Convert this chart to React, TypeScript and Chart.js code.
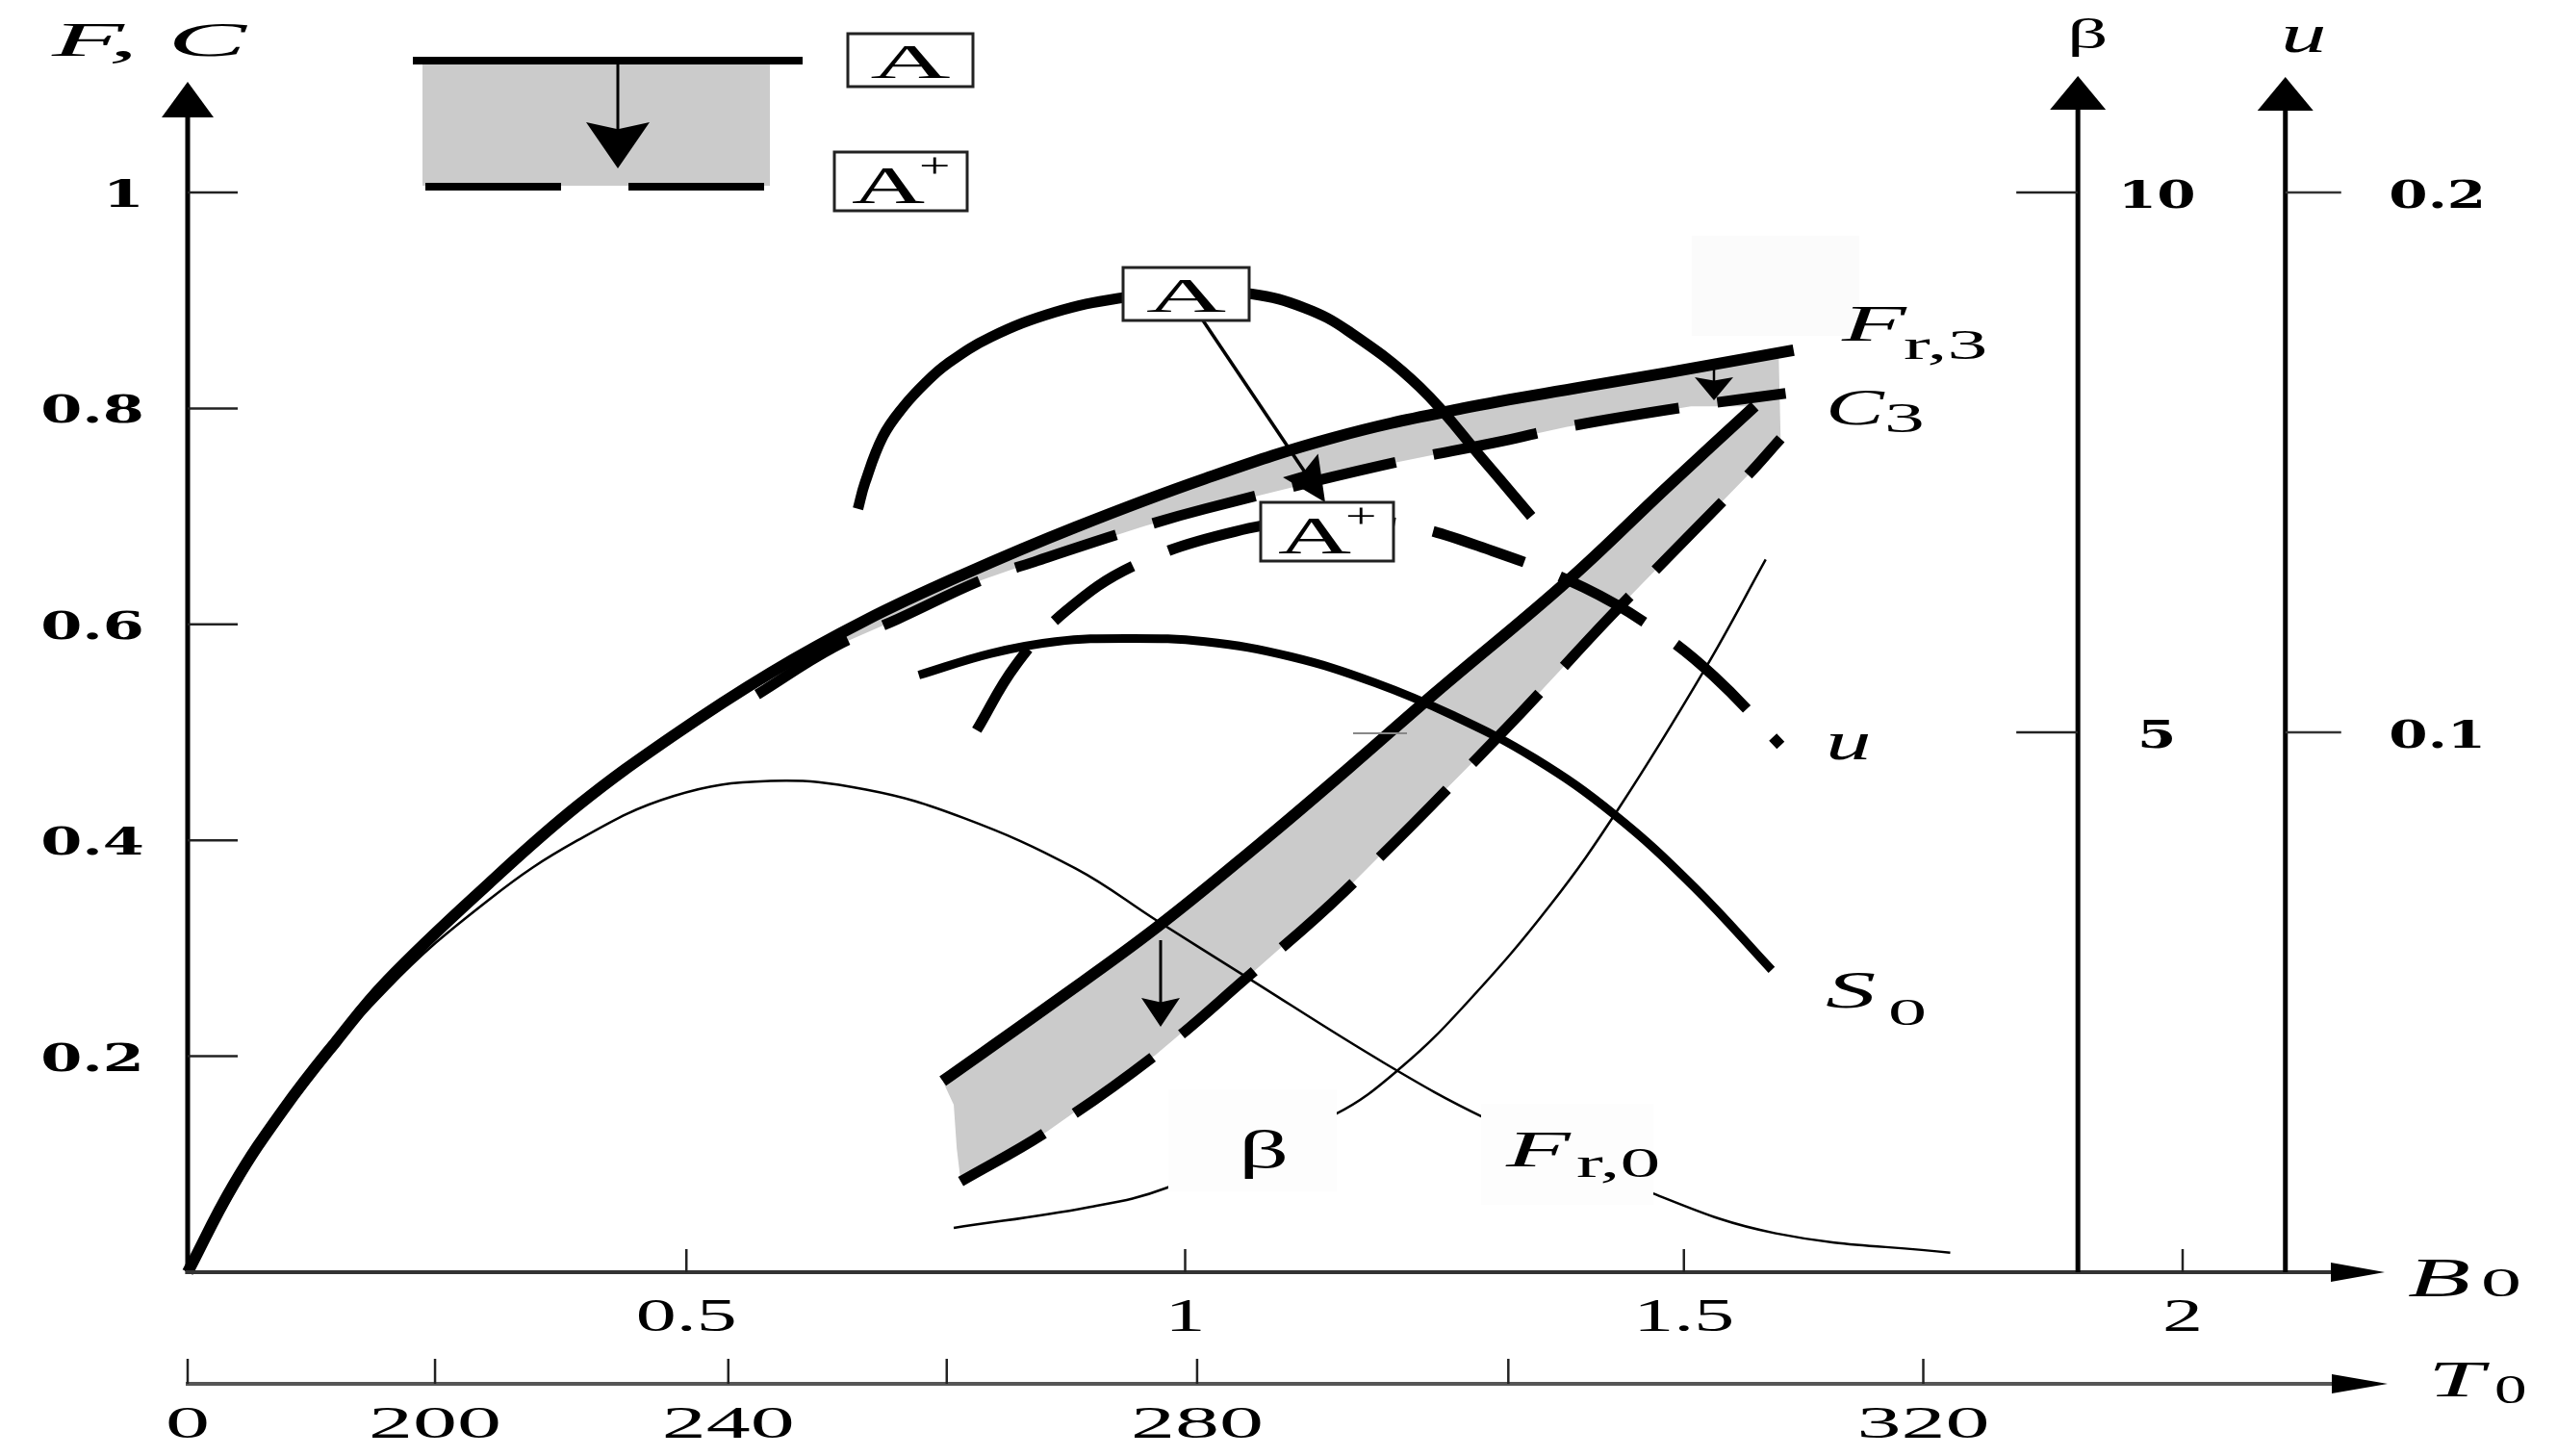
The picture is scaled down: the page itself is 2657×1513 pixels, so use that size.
import React, { useEffect, useRef } from 'react';
import { Chart, registerables } from 'chart.js';
Chart.register(...registerables);

// ---------- data (B0 on x, F/C on y; beta and u on their own axes) ----------
const fr3B0 = [0, 0.046, 0.097, 0.149, 0.2, 0.302, 0.391, 0.487, 0.584, 0.68, 0.777, 0.89, 1.02, 1.149, 1.278, 1.4, 1.483, 1.61];
const fr3F = [0, 0.081, 0.152, 0.214, 0.27, 0.36, 0.432, 0.497, 0.555, 0.604, 0.646, 0.69, 0.735, 0.773, 0.8, 0.82, 0.833, 0.854];

const c3B0 = [0.571, 0.648, 0.712, 0.796, 0.852, 0.959, 1.02, 1.196, 1.319, 1.383, 1.507, 1.602];
const c3F = [0.535, 0.579, 0.605, 0.641, 0.659, 0.691, 0.707, 0.747, 0.77, 0.783, 0.802, 0.814];

const fr0B0 = [0, 0.1, 0.2, 0.302, 0.391, 0.487, 0.584, 0.68, 0.777, 0.89, 0.971, 1.057, 1.201, 1.3, 1.469, 1.592, 1.767];
const fr0F = [0, 0.152, 0.262, 0.345, 0.4, 0.441, 0.455, 0.447, 0.421, 0.374, 0.326, 0.276, 0.193, 0.143, 0.073, 0.036, 0.018];

const s0B0 = [0.733, 0.805, 0.87, 0.94, 1.02, 1.106, 1.19, 1.27, 1.35, 1.43, 1.51, 1.588];
const s0F = [0.553, 0.573, 0.584, 0.587, 0.584, 0.57, 0.546, 0.515, 0.476, 0.424, 0.357, 0.28];

// u in state A (solid) and A+ (dashed), in u units
const uAB0 = [0.672, 0.679, 0.697, 0.718, 0.74, 0.761, 0.805, 0.869, 0.933, 1.0, 1.067, 1.12, 1.163, 1.235, 1.302, 1.347];
const uAVal = [0.1414, 0.1462, 0.1548, 0.1604, 0.1648, 0.1682, 0.1732, 0.1778, 0.1804, 0.1816, 0.1812, 0.1786, 0.1744, 0.164, 0.1498, 0.14];
const uAPlusB0 = [0.791, 0.83, 0.88, 0.95, 1.05, 1.14, 1.216, 1.308, 1.4, 1.47, 1.53, 1.597];
const uAPlusVal = [0.1004, 0.1124, 0.1224, 0.131, 0.1372, 0.1394, 0.1386, 0.1336, 0.1268, 0.1192, 0.1104, 0.0976];

// diagonal band: upper solid (A) and lower dashed (A+)
const upperB0 = [0.757, 0.867, 0.971, 1.075, 1.163, 1.25, 1.383, 1.483, 1.571];
const upperF = [0.177, 0.249, 0.319, 0.397, 0.466, 0.536, 0.64, 0.727, 0.802];
const lowerB0 = [0.775, 0.861, 0.97, 1.062, 1.159, 1.319, 1.427, 1.563, 1.597];
const lowerF = [0.084, 0.13, 0.201, 0.273, 0.352, 0.501, 0.608, 0.737, 0.772];
const bandLeftB0 = [0.771, 0.768];
const bandLeftF = [0.115, 0.155];
const bandCornerB0 = [1.595];
const bandCornerF = [0.851];

// beta curve, in beta units
const betaB0 = [0.768, 0.902, 0.981, 1.15, 1.217, 1.283, 1.366, 1.435, 1.522, 1.582];
const betaVal = [0.41, 0.6, 0.78, 1.46, 1.9, 2.5, 3.4, 4.3, 5.6, 6.6];

// ticks
const fTicks = [0.2, 0.4, 0.6, 0.8, 1];
const fTickLabels = ['0.2', '0.4', '0.6', '0.8', '1'];
const b0Ticks = [0.5, 1, 1.5, 2];
const b0TickLabels = ['0.5', '1', '1.5', '2'];
const t0TickB0 = [0, 0.248, 0.542, 0.761, 1.012, 1.324, 1.74];
const t0TickLabels = ['0', '200', '240', '', '280', '', '320'];
const betaTicks = [5, 10];
const betaTickLabels = ['5', '10'];
const uTicks = [0.1, 0.2];
const uTickLabels = ['0.1', '0.2'];
const BETA_AXIS_B0 = 1.895;
const U_AXIS_B0 = 2.103;

// ---------- layout ----------
const W = 2657, H = 1513;
const X0 = 195, XU = 1036.5, Y0 = 1322, YU = 1122;
const X_MAX = 2.3, F_MAX = 1.15;

const SERIF = '"Liberation Serif", "Times New Roman", serif';
const TICKFONT = '"DejaVu Serif", serif';

function drawText(ctx: any, s: string, x: number, y: number, font: string, sx: number, align = 'left', color = '#000') {
  ctx.save();
  ctx.font = font;
  ctx.fillStyle = color;
  ctx.textBaseline = 'alphabetic';
  ctx.textAlign = 'left';
  const w = ctx.measureText(s).width * sx;
  let left = x;
  if (align === 'center') left = x - w / 2;
  else if (align === 'right') left = x - w;
  ctx.translate(left, y);
  ctx.scale(sx, 1);
  ctx.fillText(s, 0, 0);
  ctx.restore();
}

function line(ctx: any, x1: number, y1: number, x2: number, y2: number, lw: number, color = '#000') {
  ctx.save();
  ctx.strokeStyle = color;
  ctx.lineWidth = lw;
  ctx.lineCap = 'butt';
  ctx.beginPath();
  ctx.moveTo(x1, y1);
  ctx.lineTo(x2, y2);
  ctx.stroke();
  ctx.restore();
}

function head(ctx: any, x1: number, y1: number, x2: number, y2: number, hl: number, hw: number, notch = 0.15) {
  const a = Math.atan2(y2 - y1, x2 - x1);
  const c = Math.cos(a), s = Math.sin(a);
  const bx = x2 - hl * c, by = y2 - hl * s;
  ctx.save();
  ctx.fillStyle = '#000';
  ctx.beginPath();
  ctx.moveTo(x2, y2);
  ctx.lineTo(bx + (hw / 2) * s, by - (hw / 2) * c);
  ctx.lineTo(x2 - hl * (1 - notch) * c, y2 - hl * (1 - notch) * s);
  ctx.lineTo(bx - (hw / 2) * s, by + (hw / 2) * c);
  ctx.closePath();
  ctx.fill();
  ctx.restore();
}

function arrow(ctx: any, x1: number, y1: number, x2: number, y2: number, lw: number, hl: number, hw: number) {
  const a = Math.atan2(y2 - y1, x2 - x1);
  line(ctx, x1, y1, x2 - hl * 0.7 * Math.cos(a), y2 - hl * 0.7 * Math.sin(a), lw);
  head(ctx, x1, y1, x2, y2, hl, hw);
}

const labelPieces = [
  { t: 'F, C', x: 54, y: 58, size: 50, sx: 2.45, it: true },
  { t: 'β', x: 2148, y: 50, size: 44, sx: 1.9, it: false },
  { t: 'u', x: 2370, y: 54, size: 56, sx: 1.7, it: true },
  { t: 'F', x: 1914, y: 354, size: 52, sx: 2.1, it: true },
  { t: 'r,3', x: 1978, y: 373, size: 44, sx: 1.9, it: false },
  { t: 'C', x: 1897, y: 441, size: 52, sx: 1.75, it: true },
  { t: '3', x: 1958, y: 449, size: 44, sx: 1.9, it: false },
  { t: 'u', x: 1897, y: 789, size: 56, sx: 1.7, it: true },
  { t: 'S', x: 1897, y: 1047, size: 55, sx: 1.9, it: true },
  { t: '0', x: 1962, y: 1065, size: 40, sx: 2.0, it: false },
  { t: 'β', x: 1287, y: 1213, size: 54, sx: 1.9, it: false },
  { t: 'F', x: 1565, y: 1212, size: 52, sx: 2.1, it: true },
  { t: 'r,0', x: 1638, y: 1223, size: 44, sx: 1.9, it: false },
  { t: 'B', x: 2502, y: 1347, size: 56, sx: 1.9, it: true },
  { t: '0', x: 2578, y: 1347, size: 42, sx: 2.0, it: false },
  { t: 'T', x: 2523, y: 1451, size: 52, sx: 2.0, it: true },
  { t: '0', x: 2592, y: 1458, size: 42, sx: 1.6, it: false },
];

const stateBoxes = [
  { x: 881, y: 35, w: 130, h: 55, plus: false },
  { x: 867, y: 158, w: 138, h: 61, plus: true },
  { x: 1167, y: 278, w: 131, h: 55, plus: false },
  { x: 1310, y: 522, w: 138, h: 61, plus: true },
];

const decor = {
  id: 'decor',
  afterDatasetsDraw(chart: any) {
    const ctx = chart.ctx;
    const xs = chart.scales.x, ys = chart.scales.y, yb = chart.scales.yBeta, yu = chart.scales.yU;
    const ox = xs.getPixelForValue(0), oy = ys.getPixelForValue(0);

    // label backgrounds (near-white patches)
    ctx.save();
    ctx.fillStyle = '#fdfdfd';
    ctx.fillRect(1214, 1132, 175, 106);
    ctx.fillRect(1539, 1147, 179, 105);
    ctx.fillStyle = '#fbfbfb';
    ctx.fillRect(1758, 245, 174, 104);
    ctx.restore();

    // main F,C axis
    line(ctx, ox, oy + 2, ox, 115, 5);
    head(ctx, ox, 300, ox, 85, 37, 54, 0);
    fTicks.forEach((v, i) => {
      const ty = ys.getPixelForValue(v);
      line(ctx, ox, ty, ox + 52, ty, 2.5, '#222');
      drawText(ctx, fTickLabels[i], 150, ty + 15, `bold 40px ${TICKFONT}`, 1.55, 'right');
    });

    // B0 axis
    line(ctx, ox - 2, oy, 2432, oy, 4, '#333');
    head(ctx, 2000, oy, 2478, oy, 56, 20, 0);
    b0Ticks.forEach((v, i) => {
      const tx = xs.getPixelForValue(v);
      line(ctx, tx, oy, tx, oy - 24, 2.5, '#222');
      drawText(ctx, b0TickLabels[i], tx, 1383, `48px ${SERIF}`, 1.75, 'center');
    });

    // T0 axis
    const ty0 = oy + 116;
    line(ctx, ox - 2, ty0, 2432, ty0, 4, '#555');
    head(ctx, 2000, ty0, 2481, ty0, 58, 20, 0);
    t0TickB0.forEach((v, i) => {
      const tx = xs.getPixelForValue(v);
      line(ctx, tx, ty0, tx, ty0 - 26, 2.5, '#222');
      if (t0TickLabels[i]) drawText(ctx, t0TickLabels[i], tx, 1494, `46px ${SERIF}`, 2.0, 'center');
    });

    // beta axis
    const bx = xs.getPixelForValue(BETA_AXIS_B0);
    line(ctx, bx, oy, bx, 110, 5);
    head(ctx, bx, 300, bx, 79, 35, 58, 0);
    betaTicks.forEach((v, i) => {
      const ty = yb.getPixelForValue(v);
      line(ctx, bx - 64, ty, bx, ty, 2.5, '#222');
      drawText(ctx, betaTickLabels[i], bx + 82, ty + 16, `bold 40px ${TICKFONT}`, 1.45, 'center');
    });

    // u axis
    const ux = xs.getPixelForValue(U_AXIS_B0);
    line(ctx, ux, oy, ux, 110, 5);
    head(ctx, ux, 300, ux, 80, 35, 58, 0);
    uTicks.forEach((v, i) => {
      const ty = yu.getPixelForValue(v);
      line(ctx, ux, ty, ux + 58, ty, 2.5, '#333');
      drawText(ctx, uTickLabels[i], ux + 158, ty + 16, `bold 40px ${TICKFONT}`, 1.45, 'center');
    });

    // stray tick
    line(ctx, 1406, 762, 1462, 762, 2, '#888');

    // legend
    ctx.save();
    ctx.fillStyle = '#cbcbcb';
    ctx.fillRect(439, 67, 361, 126);
    ctx.restore();
    line(ctx, 429, 63, 834, 63, 8);
    line(ctx, 442, 194, 583, 194, 8);
    line(ctx, 653, 194, 794, 194, 8);
    arrow(ctx, 642, 67, 642, 175, 3, 48, 66);

    // arrows
    arrow(ctx, 1250, 333, 1377, 522, 3.5, 46, 44);
    arrow(ctx, 1206, 977, 1206, 1067, 3, 30, 40);
    arrow(ctx, 1781, 381, 1781, 416, 2.5, 24, 40);

    // state boxes
    stateBoxes.forEach((b) => {
      ctx.save();
      ctx.fillStyle = '#fff';
      ctx.fillRect(b.x, b.y, b.w, b.h);
      ctx.strokeStyle = '#222';
      ctx.lineWidth = 3;
      ctx.strokeRect(b.x, b.y, b.w, b.h);
      ctx.restore();
      if (!b.plus) {
        drawText(ctx, 'A', b.x + b.w / 2, b.y + b.h - 9, `50px ${SERIF}`, 2.3, 'center');
      } else {
        drawText(ctx, 'A', b.x + 18, b.y + b.h - 8, `54px ${SERIF}`, 1.95);
        drawText(ctx, '+', b.x + 88, b.y + 26, `36px ${SERIF}`, 1.6);
      }
    });

    // curve and axis labels
    labelPieces.forEach((p) => {
      drawText(ctx, p.t, p.x, p.y, `${p.it ? 'italic ' : ''}${p.size}px ${SERIF}`, p.sx);
    });
  },
};

const pts = (xs: number[], ys: number[]) => xs.map((x, i) => ({ x, y: ys[i] }));

export default function App() {
  const ref = useRef<HTMLCanvasElement>(null);
  useEffect(() => {
    const canvas = ref.current!;
    const upperEnd = upperB0[upperB0.length - 1];
    const bandPoly = [
      { x: c3B0[0], y: c3F[0] },
      ...pts(fr3B0, fr3F).filter((p) => p.x > c3B0[0] && p.x < bandCornerB0[0]),
      ...pts(bandCornerB0, bandCornerF),
      ...pts(lowerB0, lowerF).reverse(),
      ...pts(bandLeftB0, bandLeftF),
      ...pts(upperB0, upperF),
      ...pts(c3B0, c3F).filter((p) => p.x < upperEnd).reverse(),
    ];
    const base = {
      borderColor: '#000',
      pointRadius: 0,
      fill: false,
      tension: 0.4,
      borderCapStyle: 'butt',
      clip: false,
    };
    const chart = new Chart(canvas, {
      type: 'line',
      data: {
        datasets: [
          { ...base, label: 'Fr,3', data: pts(fr3B0, fr3F), borderWidth: 12 },
          { ...base, label: 'C3', data: pts(c3B0, c3F), borderWidth: 11, borderDash: [110, 40] },
          { ...base, label: 'Fr,0', data: pts(fr0B0, fr0F), borderWidth: 2.5 },
          { ...base, label: 'S0', data: pts(s0B0, s0F), borderWidth: 9 },
          { ...base, label: 'u (A)', data: pts(uAB0, uAVal), yAxisID: 'yU', borderWidth: 11 },
          { ...base, label: 'u (A+)', data: pts(uAPlusB0, uAPlusVal), yAxisID: 'yU', borderWidth: 11, borderDash: [100, 40] },
          { ...base, label: 'band A', data: pts(upperB0, upperF), borderWidth: 12 },
          { ...base, label: 'band A+', data: pts(lowerB0, lowerF), borderWidth: 11, borderDash: [100, 38] },
          { ...base, label: 'beta', data: pts(betaB0, betaVal), yAxisID: 'yBeta', borderWidth: 2.5 },
          {
            label: 'shade',
            data: bandPoly,
            borderColor: 'rgba(0,0,0,0)',
            borderWidth: 1,
            backgroundColor: '#cbcbcb',
            fill: 'shape',
            tension: 0,
            pointRadius: 0,
            order: 99,
            clip: false,
          },
        ] as any,
      },
      options: {
        responsive: false,
        animation: false,
        devicePixelRatio: 1,
        layout: { padding: { left: X0, right: W - X0 - X_MAX * XU, top: Y0 - F_MAX * YU, bottom: H - Y0 } },
        plugins: { legend: { display: false }, tooltip: { enabled: false }, title: { display: false } },
        scales: {
          x: { type: 'linear', min: 0, max: X_MAX, display: false },
          y: { type: 'linear', min: 0, max: F_MAX, display: false },
          yBeta: { type: 'linear', min: 0, max: F_MAX * 10, display: false },
          yU: { type: 'linear', min: 0, max: F_MAX * 0.2, display: false },
        },
        elements: { point: { radius: 0 } },
      } as any,
      plugins: [decor],
    });
    return () => chart.destroy();
  }, []);
  return (
    <div style={{ position: 'absolute', left: 0, top: 0, width: W, height: H, background: '#fff' }}>
      <canvas ref={ref} width={W} height={H} style={{ width: W, height: H, display: 'block' }} />
    </div>
  );
}
